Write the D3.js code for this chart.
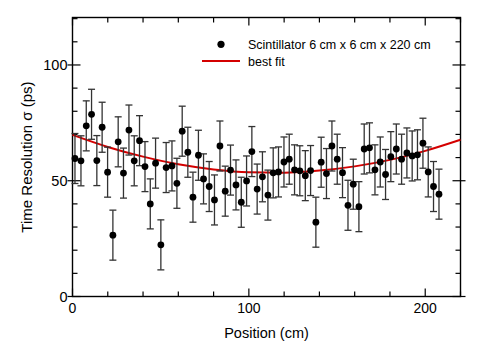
<!DOCTYPE html>
<html>
<head>
<meta charset="utf-8">
<script src="https://cdn.jsdelivr.net/npm/d3@7"></script>
<style>
  body { margin: 0; background: #fff; }
  text { font-family: "Liberation Sans", Arial, Helvetica, sans-serif; }
</style>
</head>
<body>
<div id="grafico"></div>
<script>
// posiciones (cm) y resolucion temporal (ps)
var posiciones = [1.4, 4.8, 7.8, 10.8, 13.8, 16.8, 19.9, 22.9, 25.9, 28.9,
  32.0, 35.0, 38.0, 41.1, 44.1, 47.1, 50.1, 53.1, 56.4, 59.2,
  62.2, 65.4, 68.3, 71.4, 74.3, 77.5, 80.5, 83.6, 86.6, 89.6,
  92.7, 95.7, 98.7, 101.7, 104.7, 107.7, 110.8, 113.8, 116.8, 119.9,
  122.9, 125.9, 128.9, 132.0, 135.0, 138.0, 141.0, 144.0, 147.1, 150.1,
  153.1, 156.2, 159.2, 162.4, 165.4, 168.4, 171.5, 174.5, 177.5, 180.5,
  183.6, 186.6, 189.6, 192.6, 195.6, 198.7, 201.7, 204.7, 207.8];
var sigma = [59.6, 58.6, 73.7, 78.7, 58.7, 73.1, 53.7, 26.5, 66.8, 53.3,
  71.9, 58.6, 67.3, 56.1, 40.0, 57.6, 22.3, 55.7, 56.4, 48.9,
  71.4, 62.3, 42.9, 61.0, 50.8, 47.5, 41.7, 65.0, 45.5, 54.6,
  48.2, 40.7, 49.9, 62.6, 46.4, 51.7, 43.8, 53.4, 53.8, 58.1,
  59.3, 54.7, 54.3, 52.2, 54.4, 32.1, 58.0, 53.1, 65.0, 59.3,
  53.5, 39.4, 48.5, 38.8, 63.7, 64.2, 54.7, 58.1, 52.7, 60.4,
  63.7, 59.3, 62.0, 60.7, 61.2, 66.2, 53.8, 47.5, 44.2];
var errores = [10.8, 10.8, 10.8, 10.8, 10.8, 10.8, 10.8, 10.8, 10.8, 10.8,
  10.8, 10.8, 10.8, 10.8, 10.8, 10.8, 10.8, 10.8, 10.8, 10.8,
  10.8, 10.8, 10.8, 10.8, 10.8, 10.8, 10.8, 10.8, 10.8, 10.8,
  10.8, 10.8, 10.8, 10.8, 10.8, 10.8, 10.8, 10.8, 10.8, 10.8,
  10.8, 10.8, 10.8, 10.8, 10.8, 10.8, 10.8, 10.8, 10.8, 10.8,
  10.8, 10.8, 10.8, 10.8, 10.8, 10.8, 10.8, 10.8, 10.8, 10.8,
  10.8, 10.8, 10.8, 10.8, 10.8, 10.8, 10.8, 10.8, 10.8];

// curva de ajuste
var ajusteX = [0, 20, 40, 60, 80, 100, 120, 140, 160, 180, 200, 220];
var ajusteY = [69.8, 64.6, 60.4, 57.1, 54.9, 53.7, 53.5, 54.4, 56.2, 59.0, 62.9, 67.7];

var ticksX = [0, 100, 200];
var ticksY = [0, 50, 100];
var leyenda = ["Scintillator 6 cm x 6 cm x 220 cm", "best fit"];

var width = 485, height = 350;
var margin = {top: 17.5, right: 24.5, bottom: 53.5, left: 72.5};
var w = width - margin.left - margin.right,
    h = height - margin.top - margin.bottom;

var svg = d3.select("#grafico").append("svg")
    .attr("width", width)
    .attr("height", height);

var g = svg.append("g")
    .attr("transform", "translate(" + margin.left + "," + margin.top + ")");

var x = d3.scaleLinear().domain([0, 220]).range([0, w]);
var y = d3.scaleLinear().domain([0, 120.5]).range([h, 0]);

var xMin = d3.range(0, 221, 20), yMin = d3.range(0, 121, 10);

// marcas hacia adentro en los cuatro lados
function dibujarMarcas(vals, esMayor, lado) {
  vals.forEach(function(v) {
    var mayor = esMayor(v);
    var L = mayor ? 8 : 5;
    if (lado === "bottom") {
      g.append("line").attr("x1", x(v)).attr("x2", x(v)).attr("y1", h).attr("y2", h - L);
    } else if (lado === "top") {
      g.append("line").attr("x1", x(v)).attr("x2", x(v)).attr("y1", 0).attr("y2", L);
    } else if (lado === "left") {
      g.append("line").attr("y1", y(v)).attr("y2", y(v)).attr("x1", mayor ? -5 : 0).attr("x2", L);
    } else {
      g.append("line").attr("y1", y(v)).attr("y2", y(v)).attr("x1", w + (mayor ? 5 : 0)).attr("x2", w - L);
    }
  });
}

var esMayorX = function(v) { return ticksX.indexOf(v) >= 0; };
var esMayorY = function(v) { return ticksY.indexOf(v) >= 0; };

dibujarMarcas(xMin, esMayorX, "bottom");
dibujarMarcas(xMin, esMayorX, "top");
dibujarMarcas(yMin, esMayorY, "left");
dibujarMarcas(yMin, esMayorY, "right");
g.selectAll("line").attr("stroke", "#000").attr("stroke-width", 1.2);

g.append("rect")
  .attr("x", 0).attr("y", 0).attr("width", w).attr("height", h)
  .attr("fill", "none").attr("stroke", "#000").attr("stroke-width", 1.4);

// etiquetas de ejes
g.selectAll(".tx").data(ticksX).enter().append("text")
  .attr("class", "tx")
  .attr("x", function(d) { return x(d); })
  .attr("y", h + 16)
  .attr("text-anchor", "middle")
  .style("font-size", "14px")
  .text(function(d) { return d; });

g.selectAll(".ty").data(ticksY).enter().append("text")
  .attr("class", "ty")
  .attr("x", -5)
  .attr("y", function(d) { return y(d) + 5; })
  .attr("text-anchor", "end")
  .style("font-size", "14.5px")
  .text(function(d) { return d; });

svg.append("text")
  .attr("x", margin.left + w / 2)
  .attr("y", 338)
  .attr("text-anchor", "middle")
  .style("font-size", "14.5px")
  .text("Position (cm)");

svg.append("text")
  .attr("transform", "translate(32,157) rotate(-90)")
  .attr("text-anchor", "middle")
  .style("font-size", "15px")
  .text("Time Resolution \u03c3 (ps)");

// curva de ajuste
var linea = d3.line()
  .x(function(d) { return x(d[0]); })
  .y(function(d) { return y(d[1]); })
  .curve(d3.curveMonotoneX);

g.append("path")
  .datum(ajusteX.map(function(v, i) { return [v, ajusteY[i]]; }))
  .attr("d", linea)
  .attr("fill", "none")
  .attr("stroke", "#d40000")
  .attr("stroke-width", 2);

// barras de error y puntos
var datos = posiciones.map(function(p, i) { return {x: p, y: sigma[i], e: errores[i]}; });

var barras = g.append("g").attr("stroke", "#333").attr("stroke-width", 1.3);
datos.forEach(function(d) {
  var cx = x(d.x);
  barras.append("line").attr("x1", cx).attr("x2", cx).attr("y1", y(d.y - d.e)).attr("y2", y(d.y + d.e));
  barras.append("line").attr("x1", cx - 3.5).attr("x2", cx + 3.5).attr("y1", y(d.y - d.e)).attr("y2", y(d.y - d.e));
  barras.append("line").attr("x1", cx - 3.5).attr("x2", cx + 3.5).attr("y1", y(d.y + d.e)).attr("y2", y(d.y + d.e));
});

g.selectAll(".punto").data(datos).enter().append("circle")
  .attr("class", "punto")
  .attr("cx", function(d) { return x(d.x); })
  .attr("cy", function(d) { return y(d.y); })
  .attr("r", 3.4)
  .attr("fill", "#000");

// leyenda
svg.append("circle").attr("cx", 221).attr("cy", 44.3).attr("r", 3.6).attr("fill", "#000");
svg.append("line").attr("x1", 202).attr("x2", 240).attr("y1", 61).attr("y2", 61)
  .attr("stroke", "#d40000").attr("stroke-width", 2);
svg.append("text").attr("x", 248).attr("y", 48.8).style("font-size", "12.5px").text(leyenda[0]);
svg.append("text").attr("x", 248).attr("y", 65.8).style("font-size", "12.5px").text(leyenda[1]);
</script>
</body>
</html>
